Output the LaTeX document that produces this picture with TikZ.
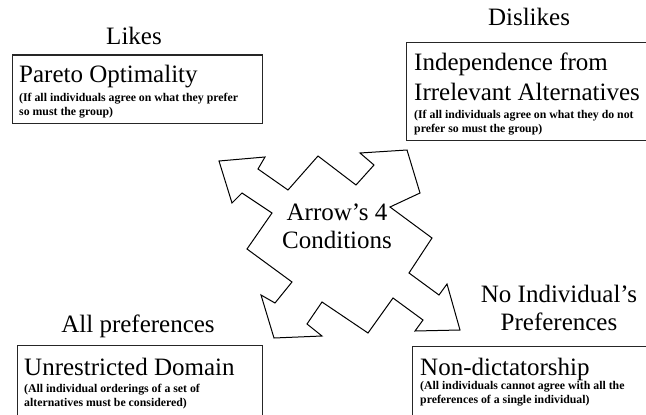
\documentclass[tikz,border=0pt]{standalone}
\usepackage{fontspec}
\setmainfont{Liberation Serif}
\usetikzlibrary{positioning}
\definecolor{BoxLine}{HTML}{262626}
\definecolor{StarLine}{HTML}{000000}
\tikzset{
    % Boxes for the four conditions
    condbox/.style={
        rectangle,
        draw=BoxLine,
        line width=1.2pt,
        anchor=north west,
        inner sep=0pt
    },
    % Text styles
    headtext/.style={
        font=\fontsize{25}{28}\selectfont,
        align=center,
        anchor=base,
        inner sep=0pt
    },
    titletext/.style={
        anchor=base west,
        align=left,
        inner sep=0pt,
        font=\fontsize{25}{30}\selectfont
    },
    notetext/.style={
        anchor=base west,
        align=left,
        inner sep=0pt,
        font=\fontsize{11.8}{14}\selectfont\bfseries
    },
    % Outline of the four-way arrow
    starline/.style={
        draw=StarLine,
        fill=white,
        line width=1pt,
        line join=miter
    }
}
\begin{document}
\begin{tikzpicture}[x=1pt,y=-1pt]
    \useasboundingbox (0,0) rectangle (646,415);
    \clip (0,0) rectangle (646,415);

    % Four-way arrow
    \draw[starline] (219,161) -- (265,157) -- (258,169) -- (288,190) -- (318,156)
        -- (356,185) -- (374,165) -- (360,153) -- (407,150) -- (420,193)
        -- (390,207) -- (432,238) -- (409,273) -- (439,295) -- (447,284)
        -- (460,330) -- (415,331) -- (423,320) -- (393,298) -- (368,333)
        -- (322,302) -- (307,324) -- (322,336) -- (274,338) -- (261,295)
        -- (275,303) -- (292,282) -- (247,249) -- (272,213) -- (242,193)
        -- (232,203) -- cycle;
    % base of a two-line node is its last line
    \node[headtext] (arrows) at (337,248) {Arrow’s 4\\Conditions};

    % Condition boxes
    \node[condbox, minimum width=250pt, minimum height=68.4pt] (paretobox) at (11.7,54.3) {};
    \node[condbox, minimum width=260pt, minimum height=98.3pt] (iiabox) at (406,41.7) {};
    \node[condbox, minimum width=245pt, minimum height=90pt] (domainbox) at (16.7,345) {};
    \node[condbox, minimum width=250pt, minimum height=90pt] (dictbox) at (411.7,346) {};

    % Headings above the boxes
    \node[headtext] (likes) at (134,45) {Likes};
    \node[headtext] (dislikes) at (529,26) {Dislikes};
    \node[headtext] (allpref) at (138,332) {All preferences};
    \node[headtext] (noindiv) at (559,330) {No Individual’s\\Preferences};

    % Box contents
    \node[titletext] (pareto) at (19,82) {Pareto Optimality};
    \node[notetext] (paretonote) at (19,115) {(If all individuals agree on what they prefer\\so must the group)};

    \node[titletext] (iia) at (414,100) {Independence from\\Irrelevant Alternatives};
    \node[notetext] (iianote) at (414,132) {(If all individuals agree on what they do not\\prefer so must the group)};

    \node[titletext] (domain) at (24,375) {Unrestricted Domain};
    \node[notetext] (domainnote) at (24,406) {(All individual orderings of a set of\\alternatives must be considered)};

    \node[titletext] (dict) at (420,375) {Non-dictatorship};
    \node[notetext] (dictnote) at (420,403) {(All individuals cannot agree with all the\\preferences of a single individual)};
\end{tikzpicture}
\end{document}
